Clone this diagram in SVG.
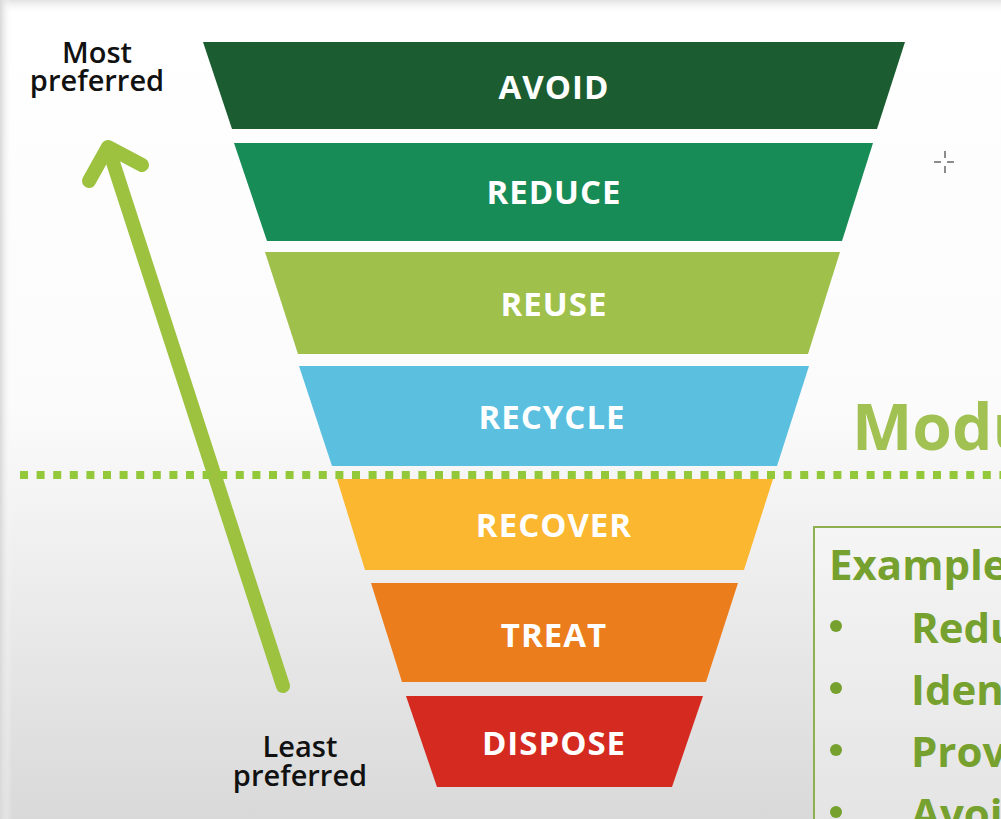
<svg xmlns="http://www.w3.org/2000/svg" width="1001" height="819" viewBox="0 0 1001 819">
<defs>
<linearGradient id="bg" x1="0" y1="0" x2="0" y2="1">
<stop offset="0" stop-color="#ffffff"/>
<stop offset="0.5" stop-color="#fbfbfb"/>
<stop offset="1" stop-color="#d9d9d9"/>
</linearGradient>
<linearGradient id="topband" x1="0" y1="0" x2="0" y2="1">
<stop offset="0" stop-color="#e2e2e2"/>
<stop offset="1" stop-color="#ffffff" stop-opacity="0"/>
</linearGradient>
<linearGradient id="leftband" x1="0" y1="0" x2="1" y2="0">
<stop offset="0" stop-color="#d8d8d8"/>
<stop offset="1" stop-color="#ffffff" stop-opacity="0"/>
</linearGradient>
<style>
.lbl{font-family:"Open Sans","Liberation Sans",sans-serif;font-weight:bold;font-size:33px;fill:#ffffff;text-anchor:middle;letter-spacing:1px}
.pref{font-family:"Open Sans","Liberation Sans",sans-serif;font-weight:600;font-size:29px;fill:#111111;text-anchor:middle}
.ex{font-family:"Open Sans","Liberation Sans",sans-serif;font-weight:bold;font-size:42px;fill:#76a12f}
</style>
</defs>
<rect x="0" y="0" width="1001" height="819" fill="url(#bg)"/>
<rect x="0" y="0" width="1001" height="14" fill="url(#topband)"/>
<rect x="0" y="0" width="12" height="819" fill="url(#leftband)"/>

<g id="avoid">
<polygon points="203,42 905,42 877,129 232,129" fill="#1b5d31"/>
<text class="lbl" x="554" y="99">AVOID</text>
</g>
<g id="reduce">
<polygon points="234,143 873,143 842,241 267,241" fill="#178c57"/>
<text class="lbl" x="554" y="204">REDUCE</text>
</g>
<g id="reuse">
<polygon points="265,252 840,252 808,354 298,354" fill="#9fc14b"/>
<text class="lbl" x="554" y="316">REUSE</text>
</g>
<g id="recycle">
<polygon points="299,366 809,366 777,466 332,466" fill="#5bbfdf"/>
<text class="lbl" x="552" y="429">RECYCLE</text>
</g>
<g id="recover">
<polygon points="337,479 773,479 744,570 365,570" fill="#fbb730"/>
<text class="lbl" x="554" y="537">RECOVER</text>
</g>
<g id="treat">
<polygon points="371,583 738,583 706,682 402,682" fill="#ec7d1d"/>
<text class="lbl" x="554" y="647">TREAT</text>
</g>
<g id="dispose">
<polygon points="406,696 703,696 672,787 437,787" fill="#d52a20"/>
<text class="lbl" x="554" y="755">DISPOSE</text>
</g>

<g id="labels">
<text class="pref" x="97" y="63">Most</text>
<text class="pref" x="97" y="91">preferred</text>
<text class="pref" x="300" y="757">Least</text>
<text class="pref" x="300" y="786">preferred</text>
</g>

<g id="connectors">
<g id="arrow" fill="none" stroke="#9cc23f" stroke-width="14" stroke-linecap="round" stroke-linejoin="round">
<line x1="283" y1="686" x2="109" y2="150"/>
<polyline points="89,181 108,147 142,165"/>
</g>
</g>

<g id="divider">
<line x1="20" y1="475" x2="1001" y2="475" stroke="#93c83b" stroke-width="8" stroke-dasharray="8 8.6"/>
</g>

<g id="module-title">
<text x="852" y="450" font-family="Open Sans, Liberation Sans, sans-serif" font-weight="bold" font-size="64" fill="#a1c153">Modu</text>
</g>

<g id="examples">
<rect x="814" y="527" width="200" height="310" fill="#ffffff" fill-opacity="0.3" stroke="#8db14e" stroke-width="2"/>
<text class="ex" x="829" y="580">Example</text>
<circle cx="836" cy="626" r="6" fill="#76a12f"/>
<text class="ex" x="911" y="643">Redu</text>
<circle cx="836" cy="688" r="6" fill="#76a12f"/>
<text class="ex" x="911" y="705">Iden</text>
<circle cx="836" cy="750" r="6" fill="#76a12f"/>
<text class="ex" x="911" y="767">Prov</text>
<circle cx="836" cy="812" r="6" fill="#76a12f"/>
<text class="ex" x="911" y="829">Avoi</text>
</g>

<g id="cursor" stroke="#666666" stroke-width="1.5">
<line x1="934" y1="162" x2="941" y2="162"/>
<line x1="947" y1="162" x2="954" y2="162"/>
<line x1="945" y1="151" x2="945" y2="158"/>
<line x1="945" y1="166" x2="945" y2="173"/>
</g>
</svg>
